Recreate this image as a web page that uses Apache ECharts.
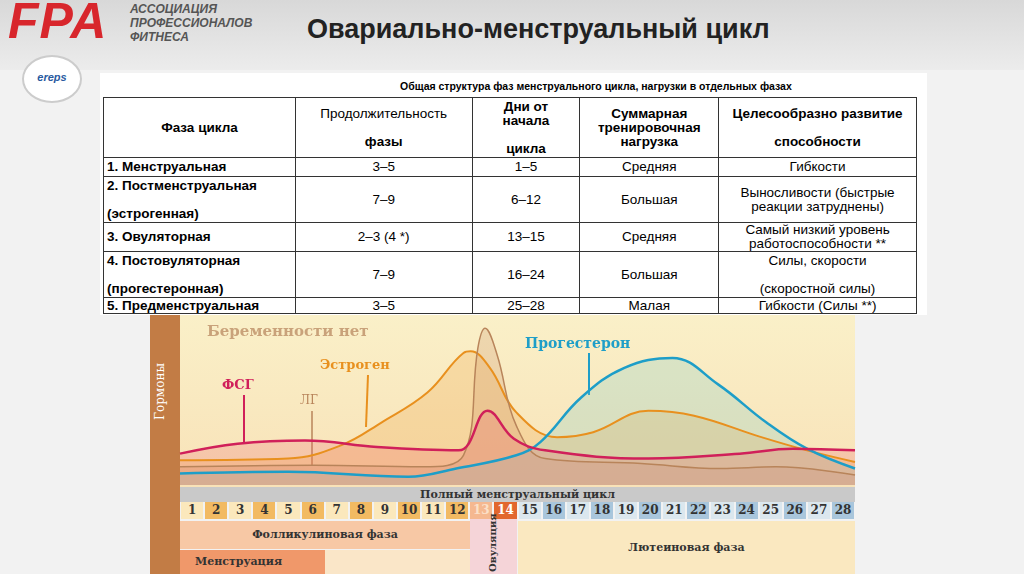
<!DOCTYPE html>
<html><head><meta charset="utf-8">
<script src="https://cdn.jsdelivr.net/npm/echarts@6/dist/echarts.min.js"></script>
<style>
body{margin:0;width:1024px;height:574px;overflow:hidden;font-family:"Liberation Sans",Arial,sans-serif;background:#f2f2f2;position:relative}
.abs{position:absolute}
#tbl{left:100px;top:73px;width:827px;height:242px;background:#fff}
#tbl table{position:absolute;left:3px;top:24px;width:814px;border-collapse:collapse;font-size:13.5px;font-family:"Liberation Sans Narrow","Liberation Sans",sans-serif}
#tbl td{border:1px solid #333;padding:0 3px;text-align:center;vertical-align:middle;line-height:14px}
#tbl td:first-child{text-align:left;font-weight:bold}
#tbl tr:first-child td:first-child{text-align:center}
#days{left:180px;top:502px;width:675px;height:17px;display:flex}
#days div{flex:1;text-align:center;font:bold 12px "DejaVu Serif",serif;line-height:17px;margin:0 1px}
.ser{font-family:"DejaVu Serif",serif;font-weight:bold}
</style></head><body>
<div class="abs" style="left:0;top:0;width:1024px;height:70px;background:linear-gradient(#d8d8d8,#ececec)"></div>
<div class="abs" style="left:8px;top:-8px;font:italic 900 50px 'Liberation Sans';color:#d8262c;letter-spacing:1px">FPA</div>
<div class="abs" style="left:130px;top:2px;font:italic bold 12px 'Liberation Sans';color:#555;line-height:14px">АССОЦИАЦИЯ<br>ПРОФЕССИОНАЛОВ<br>ФИТНЕСА</div>
<div class="abs" style="left:307px;top:14px;font:bold 27px 'Liberation Sans';color:#222">Овариально-менструальный цикл</div>
<div class="abs" style="left:22px;top:55px;width:56px;height:44px;border-radius:50%;background:#fff;border:2px solid #ccc;font:italic bold 11px 'Liberation Sans';color:#2a5aa0;text-align:center;line-height:40px">ereps</div>
<div id="tbl" class="abs">
<div class="abs" style="left:300px;top:7px;font:bold 10.5px 'Liberation Sans Narrow','Liberation Sans'">Общая структура фаз менструального цикла, нагрузки в отдельных фазах</div>
<table id="t"></table></div>
<div class="abs" style="left:150px;top:315px;width:30px;height:259px;background:#c27c45"></div>
<div class="abs ser" style="left:153px;top:420px;transform:rotate(-90deg);transform-origin:left top;color:#fff;font-size:12px;font-weight:normal">Гормоны</div>
<div class="abs" style="left:180px;top:315px;width:675px;height:172px;background:linear-gradient(#faf0c8,#f8e2b8)"></div>
<div class="abs" style="left:180px;top:487px;width:675px;height:15px;background:#c9c9c9"></div>
<div class="abs ser" style="left:180px;top:487px;width:675px;text-align:center;font-size:11px;line-height:15px;color:#333">Полный менструальный цикл</div>
<div id="days" class="abs"></div>
<div class="abs" style="left:180px;top:521px;width:290px;height:28px;background:#f7c8a5"></div>
<div class="abs ser" style="left:180px;top:521px;width:290px;text-align:center;font-size:11px;line-height:28px;color:#333">Фолликулиновая фаза</div>
<div class="abs" style="left:180px;top:550px;width:145px;height:24px;background:#f0986a"></div>
<div class="abs ser" style="left:195px;top:550px;font-size:11px;line-height:24px;color:#333">Менструация</div>
<div class="abs" style="left:325px;top:550px;width:145px;height:24px;background:#fae6c8"></div>
<div class="abs" style="left:470px;top:519px;width:47px;height:55px;background:#f5d4d8"></div>
<div class="abs ser" style="left:487px;top:572px;transform:rotate(-90deg);transform-origin:left top;font-size:10px;color:#333">Овуляция</div>
<div class="abs" style="left:518px;top:521px;width:337px;height:53px;background:#fae8c0"></div>
<div class="abs ser" style="left:518px;top:521px;width:337px;text-align:center;font-size:11px;line-height:53px;color:#333">Лютеиновая фаза</div>
<div id="c" class="abs" style="left:150px;top:315px;width:710px;height:172px"></div>
<script>
const tableRows = [
 ['Фаза цикла','Продолжительность<br><br><b>фазы</b>','<b>Дни от<br>начала<br><br>цикла</b>','<b>Суммарная<br>тренировочная<br>нагрузка</b>','<b>Целесообразно развитие<br><br>способности</b>'],
 ['1. Менструальная','3–5','1–5','Средняя','Гибкости'],
 ['2. Постменструальная<br><br>(эстрогенная)','7–9','6–12','Большая','Выносливости (быстрые<br>реакции затруднены)'],
 ['3. Овуляторная','2–3 (4 *)','13–15','Средняя','Самый низкий уровень<br>работоспособности **'],
 ['4. Постовуляторная<br><br>(прогестеронная)','7–9','16–24','Большая','Силы, скорости<br><br>(скоростной силы)'],
 ['5. Предменструальная','3–5','25–28','Малая','Гибкости (Силы **)']
];
const rowHeights = [60,19,46,29,46,16];
const colWidths = [192,176,109,136,201];
let html='';
tableRows.forEach((r,i)=>{html+='<tr style="height:'+rowHeights[i]+'px">';r.forEach((c,j)=>{html+='<td style="width:'+colWidths[j]+'px">'+c+'</td>'});html+='</tr>'});
document.getElementById('t').innerHTML=html;

const dayColors = ['#fbe8bc','#f2ba62','#fbe8bc','#f2ba62','#fbe8bc','#f2ba62','#fbe8bc','#f2ba62','#fbe8bc','#f2ba62','#fbe8bc','#f2ba62','#f5b890','#e2672e',
 '#dbe7ee','#a9c6dc','#dbe7ee','#a9c6dc','#dbe7ee','#a9c6dc','#dbe7ee','#a9c6dc','#dbe7ee','#a9c6dc','#dbe7ee','#a9c6dc','#dbe7ee','#a9c6dc'];
let dh='';
for(let d=1;d<=28;d++){let col=d==13?'#fbe0c8':d==14?'#fff':'#333';dh+='<div style="background:'+dayColors[d-1]+';color:'+col+'">'+d+'</div>'}
document.getElementById('days').innerHTML=dh;

const fsh = [[0.5,19],[2.9,25],[5.7,27],[8.7,23],[12.1,21],[13.3,45],[14.4,28],[15.7,21],[20,16],[23.8,19],[26,22],[28.6,21]];
const lh = [[0.5,11],[6.1,12],[10.6,11],[12.3,18],[12.9,83],[13.2,95],[13.7,79],[14.5,36],[15.7,16],[19.7,13],[23,10],[25.3,11],[28.6,6]];
const estrogen = [[0.5,15],[5,16],[7.2,24],[8.9,38],[10.8,56],[12.3,80],[12.6,81],[13.4,71],[14.5,44],[16.2,29],[17.7,32],[20,45],[21.9,42],[24.7,29],[26.6,21],[28.6,14]];
const progesterone = [[0.5,7],[5,8],[10,5],[12,10],[14.5,18],[15.5,26],[17.2,53],[19,71],[21,77],[22.9,61],[24.9,38],[26.6,22],[28.6,10]];

function s(name,data,color,area,w){return {name,type:'line',data,smooth:0.4,symbol:'none',lineStyle:{color,width:w},areaStyle:{color:area}}}
const chart = echarts.init(document.getElementById('c'));
chart.setOption({
 animation:false,
 grid:{left:30,right:5,top:5,bottom:2},
 xAxis:{type:'value',min:0.5,max:28.6,show:false},
 yAxis:{type:'value',min:0,max:100,show:false},
 series:[
  s('Эстроген',estrogen,'#e8901e','rgba(240,160,60,0.35)',2),
  s('ЛГ',lh,'#b8845a','rgba(200,140,100,0.35)',1.5),
  s('Прогестерон',progesterone,'#1e9ec8','rgba(120,200,200,0.35)',2.5),
  s('ФСГ',fsh,'#d0205a','rgba(235,90,110,0.3)',2.5)
 ],
 graphic:[
  {type:'text',left:57,top:10,style:{text:'Беременности нет',font:'bold 15px "DejaVu Serif"',fill:'#c9a27a'}},
  {type:'text',left:375,top:22,style:{text:'Прогестерон',font:'bold 14px "DejaVu Serif"',fill:'#1e9ec8'}},
  {type:'text',left:170,top:44,style:{text:'Эстроген',font:'bold 13px "DejaVu Serif"',fill:'#e8901e'}},
  {type:'text',left:72,top:64,style:{text:'ФСГ',font:'bold 13px "DejaVu Serif"',fill:'#d0205a'}},
  {type:'text',left:150,top:80,style:{text:'ЛГ',font:'12px "DejaVu Serif"',fill:'#b8845a'}},
  {type:'line',shape:{x1:94,y1:80,x2:94,y2:128},style:{stroke:'#d0205a',lineWidth:2}},
  {type:'line',shape:{x1:162,y1:96,x2:162,y2:150},style:{stroke:'#b8845a',lineWidth:1.5}},
  {type:'line',shape:{x1:218,y1:60,x2:216,y2:112},style:{stroke:'#e8901e',lineWidth:2}},
  {type:'line',shape:{x1:439,y1:38,x2:439,y2:80},style:{stroke:'#1e9ec8',lineWidth:2}}
 ]
});
</script></body></html>
